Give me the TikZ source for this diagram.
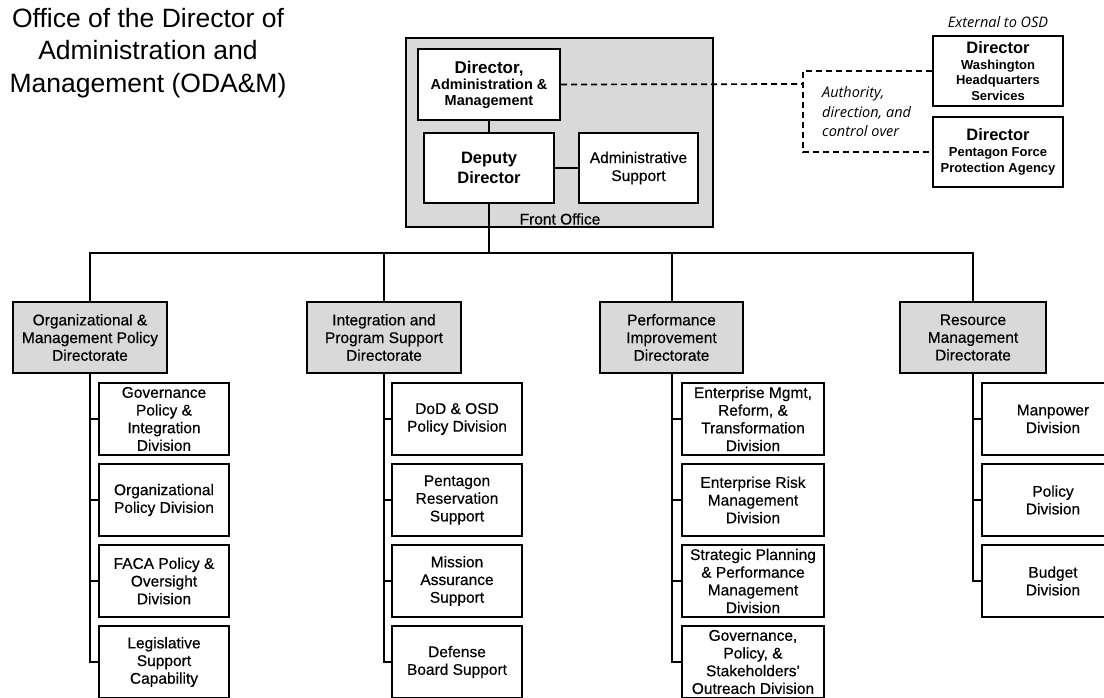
\documentclass[tikz,border=0pt]{standalone}
\usepackage{fontspec}
\setmainfont{Liberation Sans}[UprightFeatures={FakeBold=0.4}]
\newfontfamily\titlefont{Liberation Sans}
\newfontfamily\notefont{Open Sans}
\usepackage{tikz}
\usetikzlibrary{positioning,calc}

\begin{document}
\begin{tikzpicture}[x=1pt, y=-1pt,
    orgbox/.style={draw, line width=2pt, fill=white, align=center, inner sep=0pt,
        font=\fontsize{15.5}{17.7}\selectfont},
    dirbox/.style={orgbox, fill=gray!30, minimum height=71pt},
    divbox/.style={orgbox, minimum height=72pt},
    link/.style={line width=2pt},
    authline/.style={line width=1.7pt, dash pattern=on 6pt off 4pt},
    note/.style={font=\notefont\itshape\fontsize{14.5}{19.5}\selectfont, inner sep=0pt}]
    \useasboundingbox (0,0) rectangle (1104,698);

    % Title
    \node[align=center, inner sep=0pt, font=\titlefont\fontsize{26.5}{32.5}\selectfont] (title) at (148,53)
        {Office of the Director of\\Administration and\\Management (ODA\&M)};

    % Front office
    \node[draw, line width=2pt, fill=gray!30, minimum width=307pt, minimum height=189pt] (front) at (559.5,132.5) {};
    \node[inner sep=0pt, font=\fontsize{15.5}{17.7}\selectfont] (fronttxt) at (560,219) {Front Office};
    \node[orgbox, minimum width=142pt, minimum height=71pt, font=\bfseries\fontsize{14.5}{16}\selectfont] (dam) at (489,84.5)
        {{\fontsize{17}{18}\selectfont Director,}\\Administration \&\\Management};
    \node[orgbox, minimum width=130pt, minimum height=70pt, font=\bfseries\fontsize{16.5}{20}\selectfont] (dep) at (489,168)
        {Deputy\\Director};
    \node[orgbox, minimum width=119pt, minimum height=70pt, font=\fontsize{15.5}{18}\selectfont] (adm) at (638.5,168)
        {Administrative\\Support};

    % External to OSD
    \node[note] (ext) at (998,22) {External to OSD};
    \node[orgbox, minimum width=130pt, minimum height=70pt, font=\bfseries\fontsize{13}{15.5}\selectfont] (whs) at (998,71)
        {{\fontsize{16.5}{18}\selectfont Director}\\Washington\\Headquarters\\Services};
    \node[orgbox, minimum width=130pt, minimum height=70pt, font=\bfseries\fontsize{13}{16}\selectfont] (pfpa) at (998,152)
        {{\fontsize{16.5}{18}\selectfont Director}\\Pentagon Force\\Protection Agency};
    \coordinate (bend) at (803,84);
    \node[note, align=left, anchor=west] (auth) at (822,112) {Authority,\\direction, and\\control over};

    % Directorates
    \coordinate (bus) at (489,253);
    \node[dirbox, minimum width=154pt] (omp) at (90,337.5) {Organizational \&\\Management Policy\\Directorate};
    \node[dirbox, minimum width=154pt] (ips) at (384,337.5) {Integration and\\Program Support\\Directorate};
    \node[dirbox, minimum width=143pt] (pid) at (671.5,337.5) {Performance\\Improvement\\Directorate};
    \node[dirbox, minimum width=146pt] (rmd) at (973,337.5) {Resource\\Management\\Directorate};

    % Divisions
    \node[divbox, minimum width=130pt] (omp1) at (164,419) {Governance\\Policy \&\\Integration\\Division};
    \node[divbox, minimum width=130pt] (omp2) at (164,500) {Organizational\\Policy Division};
    \node[divbox, minimum width=130pt] (omp3) at (164,581) {FACA Policy \&\\Oversight\\Division};
    \node[divbox, minimum width=130pt] (omp4) at (164,662) {Legislative\\Support\\Capability};

    \node[divbox, minimum width=130pt] (ips1) at (457,419) {DoD \& OSD\\Policy Division};
    \node[divbox, minimum width=130pt] (ips2) at (457,500) {Pentagon\\Reservation\\Support};
    \node[divbox, minimum width=130pt] (ips3) at (457,581) {Mission\\Assurance\\Support};
    \node[divbox, minimum width=130pt] (ips4) at (457,662) {Defense\\Board Support};

    \node[divbox, minimum width=142pt] (pid1) at (753,419) {Enterprise Mgmt,\\Reform, \&\\Transformation\\Division};
    \node[divbox, minimum width=142pt] (pid2) at (753,500) {Enterprise Risk\\Management\\Division};
    \node[divbox, minimum width=142pt] (pid3) at (753,581) {Strategic Planning\\\& Performance\\Management\\Division};
    \node[divbox, minimum width=142pt] (pid4) at (753,662) {Governance,\\Policy, \&\\Stakeholders\char"2019\\Outreach Division};

    \node[divbox, minimum width=142pt] (rmd1) at (1053,419) {Manpower\\Division};
    \node[divbox, minimum width=142pt] (rmd2) at (1053,500) {Policy\\Division};
    \node[divbox, minimum width=142pt] (rmd3) at (1053,581) {Budget\\Division};

    % Connectors
    \draw[link] (dam) -- (dep);
    \draw[link] (dep) -- (adm);
    \draw[link] (dep.south) -- (bus);
    \draw[link] (omp.north) |- (bus) -| (rmd.north);
    \draw[link] (ips.north) -- (ips.north |- bus);
    \draw[link] (pid.north) -- (pid.north |- bus);
    \draw[authline] (dam.east) -- (bend);
    \draw[authline] (whs.west) -| (bend) |- (pfpa.west);

    \foreach \d/\n in {omp/4, ips/4, pid/4, rmd/3} {
        \draw[link] (\d.south) |- (\d\n.west);
        \foreach \i in {1,...,\n}
            \draw[link] (\d.south |- \d\i.west) -- (\d\i.west);
    }
\end{tikzpicture}
\end{document}
